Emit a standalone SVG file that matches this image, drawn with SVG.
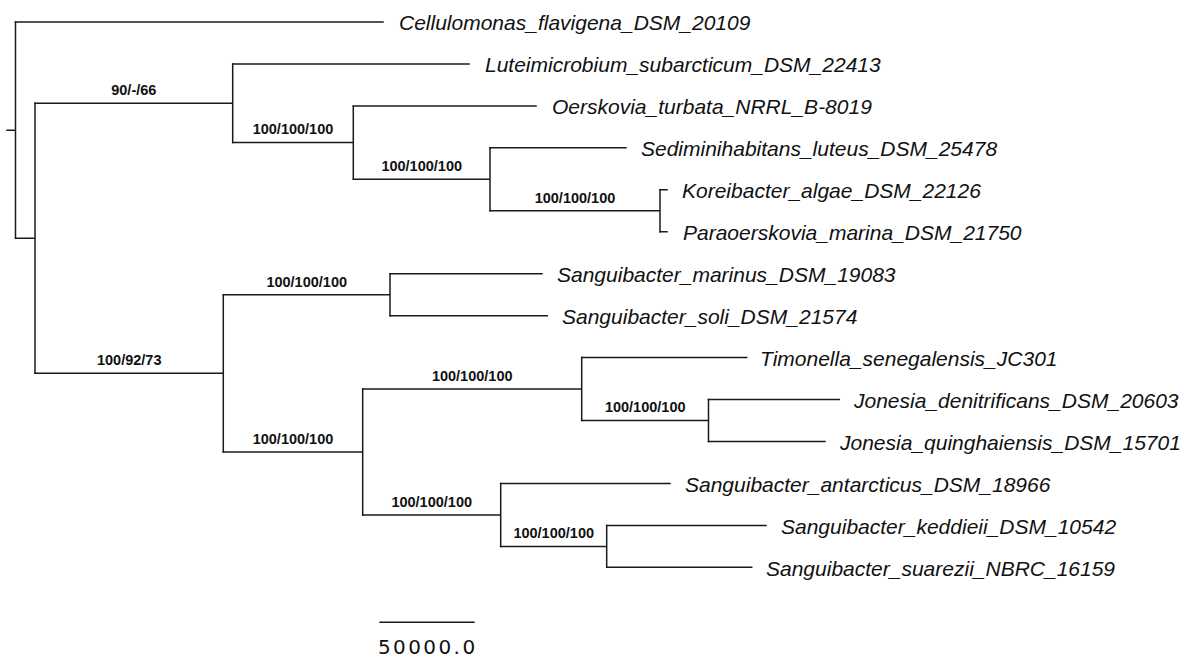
<svg xmlns="http://www.w3.org/2000/svg" width="1191" height="657" viewBox="0 0 1191 657">
<style>
.br{fill:none;stroke:#1a1a1a;stroke-width:1.5;stroke-linecap:square}
.tip{font-family:"Liberation Sans",Arial,sans-serif;font-style:italic;font-size:21px;fill:#111}
.sup{font-family:"Liberation Sans",Arial,sans-serif;font-weight:bold;font-size:14.5px;fill:#111;text-anchor:middle}
.scl{font-family:"DejaVu Sans",sans-serif;font-size:20px;fill:#111;letter-spacing:2.4px}
</style>
<rect width="1191" height="657" fill="#fff"/>
<g id="connectors">
<path class="br" d="M7,130.2H15.5M15.5,22V238.3"/>
<path class="br" d="M15.5,22H383"/>
<path class="br" d="M15.5,238.3H35M35,103.3V373.3"/>
<path class="br" d="M35,103.3H232.7M232.7,63.95V142.6"/>
<path class="br" d="M232.7,63.95H469"/>
<path class="br" d="M232.7,142.6H353.3M353.3,105.9V179.3"/>
<path class="br" d="M353.3,105.9H536"/>
<path class="br" d="M353.3,179.3H490M490,147.85V210.8"/>
<path class="br" d="M490,147.85H626"/>
<path class="br" d="M490,210.8H660M660,189.8V231.75"/>
<path class="br" d="M660,189.8H667M660,231.75H667"/>
<path class="br" d="M35,373.3H223.3M223.3,294.7V452"/>
<path class="br" d="M223.3,294.7H390M390,273.7V315.65"/>
<path class="br" d="M390,273.7H542M390,315.65H547.3"/>
<path class="br" d="M223.3,452H362.7M362.7,389.1V514.9"/>
<path class="br" d="M362.7,389.1H581.7M581.7,357.6V420.5"/>
<path class="br" d="M581.7,357.6H746.7"/>
<path class="br" d="M581.7,420.5H708.5M708.5,399.55V441.5"/>
<path class="br" d="M708.5,399.55H839.3M708.5,441.5H825"/>
<path class="br" d="M362.7,514.9H500.7M500.7,483.45V546.4"/>
<path class="br" d="M500.7,483.45H670"/>
<path class="br" d="M500.7,546.4H606.7M606.7,525.4V567.35"/>
<path class="br" d="M606.7,525.4H766M606.7,567.35H751.7"/>
</g>
<g id="tip-cellulomonas"><text class="tip" x="399" y="29.5">Cellulomonas_flavigena_DSM_20109</text></g>
<g id="tip-luteimicrobium"><text class="tip" x="485" y="71.5">Luteimicrobium_subarcticum_DSM_22413</text></g>
<g id="tip-oerskovia"><text class="tip" x="552" y="113.5">Oerskovia_turbata_NRRL_B-8019</text></g>
<g id="tip-sediminihabitans"><text class="tip" x="641" y="155.5">Sediminihabitans_luteus_DSM_25478</text></g>
<g id="tip-koreibacter"><text class="tip" x="682" y="197.5">Koreibacter_algae_DSM_22126</text></g>
<g id="tip-paraoerskovia"><text class="tip" x="683" y="239.5">Paraoerskovia_marina_DSM_21750</text></g>
<g id="tip-sanguibacter-marinus"><text class="tip" x="557" y="281.5">Sanguibacter_marinus_DSM_19083</text></g>
<g id="tip-sanguibacter-soli"><text class="tip" x="562" y="323.5">Sanguibacter_soli_DSM_21574</text></g>
<g id="tip-timonella"><text class="tip" x="760" y="365.5">Timonella_senegalensis_JC301</text></g>
<g id="tip-jonesia-denitrificans"><text class="tip" x="854" y="407.5">Jonesia_denitrificans_DSM_20603</text></g>
<g id="tip-jonesia-quinghaiensis"><text class="tip" x="840" y="449.5">Jonesia_quinghaiensis_DSM_15701</text></g>
<g id="tip-sanguibacter-antarcticus"><text class="tip" x="685" y="491.5">Sanguibacter_antarcticus_DSM_18966</text></g>
<g id="tip-sanguibacter-keddieii"><text class="tip" x="781" y="533.5">Sanguibacter_keddieii_DSM_10542</text></g>
<g id="tip-sanguibacter-suarezii"><text class="tip" x="766" y="575.5">Sanguibacter_suarezii_NBRC_16159</text></g>
<g id="node-B"><text class="sup" x="133.8" y="95">90/-/66</text></g>
<g id="node-C"><text class="sup" x="293" y="134">100/100/100</text></g>
<g id="node-D"><text class="sup" x="421.7" y="171">100/100/100</text></g>
<g id="node-E"><text class="sup" x="575" y="202.5">100/100/100</text></g>
<g id="node-F"><text class="sup" x="129.2" y="365">100/92/73</text></g>
<g id="node-G"><text class="sup" x="306.7" y="286.5">100/100/100</text></g>
<g id="node-H"><text class="sup" x="293" y="443.5">100/100/100</text></g>
<g id="node-I"><text class="sup" x="472.2" y="380.8">100/100/100</text></g>
<g id="node-J"><text class="sup" x="645.2" y="412.2">100/100/100</text></g>
<g id="node-K"><text class="sup" x="431.7" y="506.6">100/100/100</text></g>
<g id="node-L"><text class="sup" x="553.7" y="538.1">100/100/100</text></g>
<g id="scale-bar">
<path class="br" d="M380,622.3H474"/>
<text class="scl" x="378" y="654">50000.0</text>
</g>
</svg>
